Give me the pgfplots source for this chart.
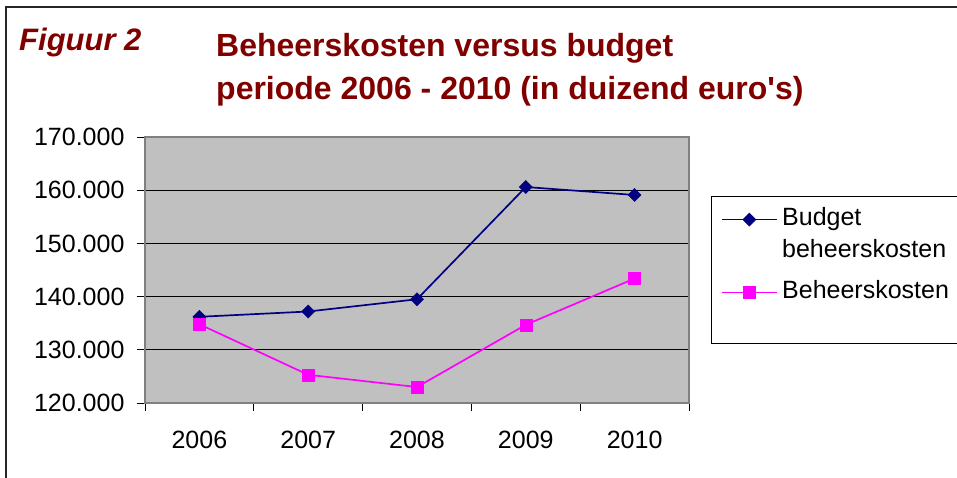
\documentclass[border=0pt]{standalone}
\usepackage{fontspec}
\setmainfont{Liberation Sans}
\usepackage{pgfplots}
\pgfplotsset{compat=1.18}
\definecolor{titlered}{HTML}{800000}
\definecolor{navyc}{HTML}{000080}
\definecolor{magc}{HTML}{FF00FF}
\definecolor{plotgray}{HTML}{C0C0C0}
\definecolor{bordergray}{HTML}{808080}
\newcommand{\tfont}{\fontsize{25pt}{28pt}\selectfont}
\begin{document}
\begin{tikzpicture}[x=1pt,y=1pt]
\useasboundingbox (0,0) rectangle (957,477);
\fill[white] (0,0) rectangle (957,477);
\draw[line width=1.2pt, black!85] (6,-10) -- (6,470) -- (970,470);
\node[anchor=base west, inner sep=0pt, text=titlered, font=\fontsize{31pt}{36pt}\selectfont\bfseries\itshape] at (19,426) {Figuur 2};
\node[anchor=base west, inner sep=0pt, text=titlered, font=\fontsize{32pt}{36pt}\selectfont\bfseries] at (216,420) {Beheerskosten versus budget};
\node[anchor=base west, inner sep=0pt, text=titlered, font=\fontsize{32pt}{36pt}\selectfont\bfseries] at (216,377) {periode 2006 - 2010 (in duizend euro\textquotesingle s)};
\begin{axis}[
  at={(145pt,74pt)}, anchor=south west,
  scale only axis, width=544pt, height=266pt,
  xmin=0.5, xmax=5.5, ymin=120000, ymax=170000,
  xtick={0.5,1.5,...,5.5}, xticklabels={},
  extra x ticks={1,2,3,4,5},
  extra x tick labels={2006,2007,2008,2009,2010},
  extra x tick style={tick style={draw=none}, xticklabel style={yshift=-17pt}},
  ytick={120000,130000,...,170000},
  major tick length=8pt,
  tick align=outside,
  tick pos=left,
  tick style={black, line width=0.9pt},
  ymajorgrids,
  grid style={black, line width=1pt},
  axis background/.style={fill=plotgray},
  axis line style={draw=bordergray, line width=1.2pt},
  scaled y ticks=false,
  yticklabel style={/pgf/number format/fixed, /pgf/number format/precision=0, /pgf/number format/1000 sep={.}, xshift=-9pt},
  /pgf/number format/assume math mode=true,
  tick label style={font=\tfont},
  legend image code/.code={\draw[mark repeat=2,mark phase=2] plot coordinates {(0pt,0pt) (27pt,0pt) (55pt,0pt)};},
  legend cell align=left,
  legend style={at={(axis description cs:1.0404,0.778)}, anchor=north west,
    draw=black, line width=1pt, fill=white, inner xsep=10pt, inner ysep=9pt,
    font=\tfont, nodes={inner sep=0pt, text depth=}, row sep=4pt, /tikz/column sep=4pt},
]
\addplot[color=navyc, line width=1.7pt, mark=square*, mark size=4.6pt, mark options={fill=navyc, line width=0.5pt, rotate=45}]
  coordinates {(1,136200) (2,137200) (3,139500) (4,160600) (5,159100)};
\addlegendentry{\strut Budget}
\addlegendimage{empty legend}
\addlegendentry{\strut beheerskosten\rule[-17.4pt]{0pt}{0pt}}
\addplot[color=magc, line width=1.7pt, mark=square*, mark size=6pt, mark options={fill=magc, line width=0.5pt}]
  coordinates {(1,134800) (2,125300) (3,123000) (4,134700) (5,143400)};
\addlegendentry{\strut Beheerskosten}
\addlegendimage{empty legend}
\addlegendentry{\rule{0pt}{24pt}}
\end{axis}
\end{tikzpicture}
\end{document}
